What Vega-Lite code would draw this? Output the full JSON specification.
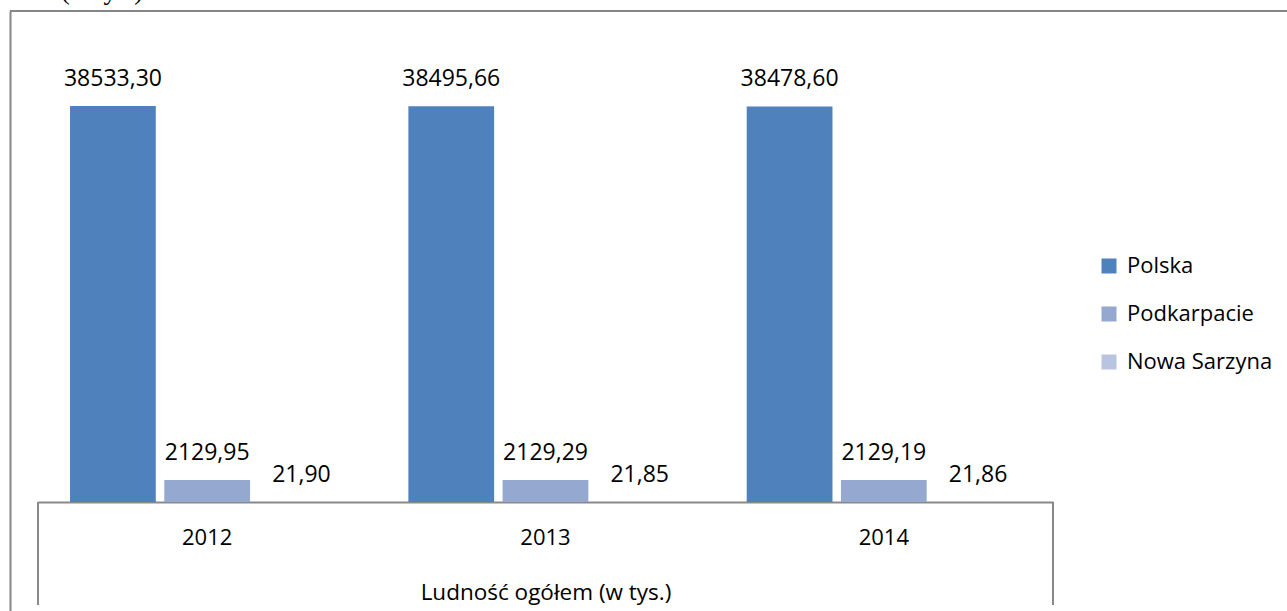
{
  "$schema": "https://vega.github.io/schema/vega-lite/v6.json",
  "width": 1277,
  "height": 600,
  "autosize": {"type": "none"},
  "padding": {"left": 10, "top": 11, "right": 0, "bottom": 0},
  "background": "white",
  "config": {
    "view": {"stroke": null},
    "locale": {"number": {"decimal": ",", "thousands": " ", "grouping": [3], "currency": ["", ""]}}
  },
  "title": {
    "text": "2014 (w tys.)",
    "anchor": "start",
    "frame": "group",
    "orient": "top",
    "font": "Liberation Serif",
    "fontSize": 27,
    "fontWeight": "normal",
    "color": "black",
    "baseline": "alphabetic",
    "offset": 0,
    "dy": 16,
    "dx": -10
  },
  "data": {
    "values": [
      {"year": "2012", "series": "Polska", "value": 38533.30},
      {"year": "2012", "series": "Podkarpacie", "value": 2129.95},
      {"year": "2012", "series": "Nowa Sarzyna", "value": 21.90},
      {"year": "2013", "series": "Polska", "value": 38495.66},
      {"year": "2013", "series": "Podkarpacie", "value": 2129.29},
      {"year": "2013", "series": "Nowa Sarzyna", "value": 21.85},
      {"year": "2014", "series": "Polska", "value": 38478.60},
      {"year": "2014", "series": "Podkarpacie", "value": 2129.19},
      {"year": "2014", "series": "Nowa Sarzyna", "value": 21.86}
    ]
  },
  "layer": [
    {
      "mark": {"type": "rule", "color": "#868686", "strokeWidth": 2},
      "encoding": {"y": {"datum": 47763, "type": "quantitative"}}
    },
    {
      "mark": {"type": "bar"},
      "encoding": {
        "x": {
          "field": "year",
          "type": "nominal",
          "scale": {"domain": ["2012", "2013", "2014"], "range": [28, 1043], "paddingInner": 0, "paddingOuter": 0},
          "axis": {
            "orient": "bottom",
            "offset": -109,
            "domainColor": "#898989",
            "domainWidth": 2,
            "ticks": false,
            "grid": false,
            "labelPadding": 25,
            "labelFont": "Open Sans",
            "labelFontSize": 22,
            "labelColor": "black",
            "labelAngle": 0,
            "title": "Ludność ogółem (w tys.)",
            "titleFont": "Open Sans",
            "titleFontSize": 22.5,
            "titleFontWeight": "normal",
            "titleColor": "black",
            "titlePadding": 33
          }
        },
        "xOffset": {
          "field": "series",
          "type": "nominal",
          "sort": ["Polska", "Podkarpacie", "Nowa Sarzyna"],
          "scale": {"domain": ["Polska", "Podkarpacie", "Nowa Sarzyna"], "paddingInner": 0.09, "paddingOuter": 0.34}
        },
        "y": {
          "field": "value",
          "type": "quantitative",
          "scale": {"domain": [-10603, 47763], "nice": false, "zero": false},
          "axis": {"title": null, "labels": false, "ticks": false, "grid": false, "domain": true, "domainColor": "#868686", "domainWidth": 2}
        },
        "color": {
          "field": "series",
          "type": "nominal",
          "sort": ["Polska", "Podkarpacie", "Nowa Sarzyna"],
          "scale": {"domain": ["Polska", "Podkarpacie", "Nowa Sarzyna"], "range": ["#4F81BD", "#95A9D0", "#B9C4E0"]},
          "legend": {
            "orient": "none",
            "legendX": 1088,
            "legendY": 244,
            "title": null,
            "padding": 0,
            "symbolType": "square",
            "symbolSize": 225,
            "symbolStrokeWidth": 0,
            "symbolOpacity": 1,
            "labelFont": "Open Sans",
            "labelFontSize": 22,
            "labelColor": "black",
            "rowPadding": 26,
            "labelOffset": 7
          }
        }
      }
    },
    {
      "mark": {"type": "text", "baseline": "alphabetic", "dy": -20, "font": "Open Sans", "fontSize": 23, "color": "black"},
      "encoding": {
        "x": {"field": "year", "type": "nominal"},
        "xOffset": {"field": "series", "type": "nominal", "sort": ["Polska", "Podkarpacie", "Nowa Sarzyna"]},
        "y": {"field": "value", "type": "quantitative"},
        "text": {"field": "value", "type": "quantitative", "format": ".2f"}
      }
    },
    {
      "data": {"values": [{"year": "2012"}]},
      "mark": {"type": "rule", "color": "#898989", "strokeWidth": 2},
      "encoding": {
        "x": {"field": "year", "type": "nominal", "bandPosition": 0},
        "y": {"datum": 0, "type": "quantitative"},
        "y2": {"datum": -10019}
      }
    },
    {
      "data": {"values": [{"year": "2014"}]},
      "mark": {"type": "rule", "color": "#898989", "strokeWidth": 2},
      "encoding": {
        "x": {"field": "year", "type": "nominal", "bandPosition": 1},
        "y": {"datum": 0, "type": "quantitative"},
        "y2": {"datum": -10019}
      }
    }
  ]
}
